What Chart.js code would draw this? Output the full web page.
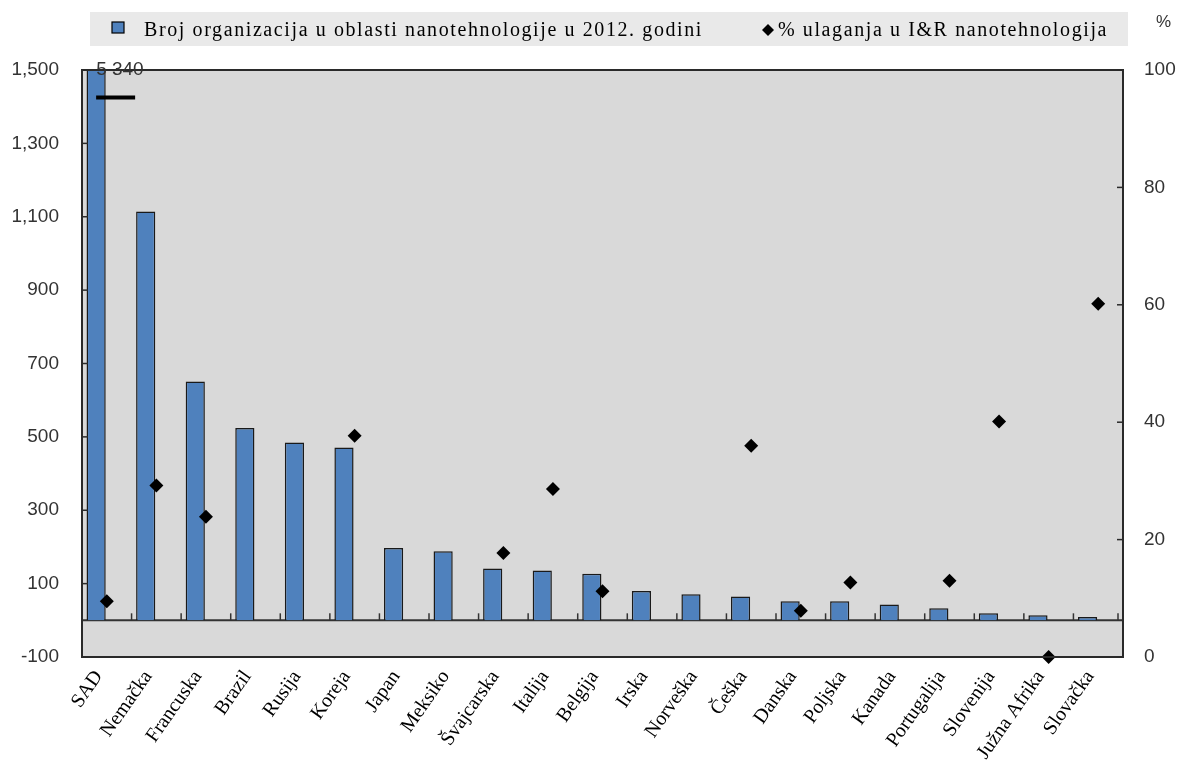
<!DOCTYPE html>
<html>
<head>
<meta charset="utf-8">
<script src="https://cdn.jsdelivr.net/npm/chart.js@4.4.1/dist/chart.umd.min.js"></script>
<style>
  html, body { margin: 0; padding: 0; background: #fff; }
  #wrap { width: 1178px; height: 765px; }
</style>
</head>
<body>
<div id="wrap"><canvas id="grafik" width="1178" height="765"></canvas></div>
<script>
// zemlje i vrednosti
const zemlje = ['SAD', 'Nemačka', 'Francuska', 'Brazil', 'Rusija', 'Koreja', 'Japan', 'Meksiko',
  'Švajcarska', 'Italija', 'Belgija', 'Irska', 'Norveška', 'Češka', 'Danska', 'Poljska',
  'Kanada', 'Portugalija', 'Slovenija', 'Južna Afrika', 'Slovačka'];
const brojOrganizacija = [5340, 1114, 651, 524, 485, 471, 197, 188, 141, 136, 127, 80, 71, 65, 52, 52, 43, 33, 19, 14, 9];
const procenatUlaganja = [9.5, 29.2, 23.9, null, null, 37.7, null, null, 17.7, 28.6, 11.2, null, null, 36.0, 7.9, 12.7, null, 13.0, 40.1, 0, 60.2];
const leviPodeoci = [-100, 100, 300, 500, 700, 900, 1100, 1300, 1500];
const desniPodeoci = [0, 20, 40, 60, 80, 100];
const prekid = 1425;   // gde se crta oznaka prekida za SAD

const natpisLevo = 'Broj organizacija u oblasti nanotehnologije u 2012. godini';
const natpisDesno = '% ulaganja u I&R nanotehnologija';

const plava = '#4F81BD';
const sivaPozadina = '#D9D9D9';
const sansFont = "'Liberation Sans', Arial, sans-serif";
const serifFont = "'Liberation Serif', 'Times New Roman', serif";

// pozadina, okvir, nulta linija, podeoci, legenda
const ukrasi = {
  id: 'ukrasi',
  beforeDraw(chart) {
    const { ctx, chartArea: a } = chart;
    ctx.save();
    ctx.fillStyle = sivaPozadina;
    ctx.fillRect(a.left, a.top, a.right - a.left, a.bottom - a.top);
    // legenda
    ctx.fillStyle = '#E9E9E9';
    ctx.fillRect(90, 12, 1038, 34);
    ctx.restore();
  },
  beforeDatasetsDraw(chart) {
    const { ctx, chartArea: a, scales } = chart;
    const y0 = scales.y.getPixelForValue(0);
    ctx.save();
    ctx.strokeStyle = '#333';
    ctx.lineWidth = 2;
    ctx.beginPath();
    ctx.moveTo(a.left, y0);
    ctx.lineTo(a.right, y0);
    ctx.stroke();
    // podeoci izmedju kategorija
    ctx.lineWidth = 1.5;
    const n = zemlje.length;
    for (let i = 1; i <= n; i++) {
      const x = i < n ? (scales.x.getPixelForTick(i - 1) + scales.x.getPixelForTick(i)) / 2 : a.right - 5;
      ctx.beginPath();
      ctx.moveTo(x, y0);
      ctx.lineTo(x, y0 - 7);
      ctx.stroke();
    }
    ctx.restore();
  },
  afterDraw(chart) {
    const { ctx, chartArea: a, scales } = chart;
    ctx.save();
    ctx.strokeStyle = '#2a2a2a';
    ctx.lineWidth = 2;
    ctx.strokeRect(a.left, a.top, a.right - a.left, a.bottom - a.top);
    // podeoci na osama
    ctx.lineWidth = 1.5;
    leviPodeoci.forEach(v => {
      const y = scales.y.getPixelForValue(v);
      ctx.beginPath(); ctx.moveTo(a.left, y); ctx.lineTo(a.left + 6, y); ctx.stroke();
    });
    desniPodeoci.forEach(v => {
      const y = scales.y2.getPixelForValue(v);
      ctx.beginPath(); ctx.moveTo(a.right, y); ctx.lineTo(a.right - 6, y); ctx.stroke();
    });

    // prekid stubca za SAD i vrednost
    const stub = chart.getDatasetMeta(0).data[0];
    const yp = scales.y.getPixelForValue(prekid);
    ctx.strokeStyle = '#000';
    ctx.lineWidth = 4;
    ctx.beginPath();
    ctx.moveTo(stub.x, yp);
    ctx.lineTo(stub.x + 39, yp);
    ctx.stroke();
    ctx.fillStyle = '#333';
    ctx.font = '19px ' + sansFont;
    ctx.textBaseline = 'middle';
    ctx.textAlign = 'left';
    ctx.fillText(brojOrganizacija[0].toLocaleString('fr-FR').replace(/\s/g, ' '), stub.x, a.top);

    // legenda
    ctx.fillStyle = plava;
    ctx.fillRect(112, 22, 12, 11);
    ctx.strokeStyle = '#000';
    ctx.lineWidth = 1.2;
    ctx.strokeRect(112, 22, 12, 11);
    ctx.fillStyle = '#000';
    ctx.beginPath();
    ctx.moveTo(768, 24); ctx.lineTo(774, 30); ctx.lineTo(768, 36); ctx.lineTo(762, 30);
    ctx.closePath(); ctx.fill();
    ctx.font = '20px ' + serifFont;
    ctx.letterSpacing = '1.6px';
    ctx.textBaseline = 'alphabetic';
    ctx.fillText(chart.data.datasets[0].label, 144, 36);
    ctx.fillText(chart.data.datasets[2].label, 778, 36);
    ctx.letterSpacing = '0px';
    ctx.font = '17px ' + sansFont;
    ctx.fillStyle = '#333';
    ctx.fillText('%', 1156, 27);
    ctx.restore();
  }
};

new Chart(document.getElementById('grafik'), {
  data: {
    labels: zemlje,
    datasets: [
      {
        type: 'bar',
        label: natpisLevo,
        data: brojOrganizacija,
        backgroundColor: plava,
        borderColor: '#1a1a1a',
        borderWidth: 1.5,
        categoryPercentage: 0.86,
        barPercentage: 0.9,
        yAxisID: 'y',
        clip: 0,
        order: 2
      },
      {
        // prazno mesto desno od stubca
        type: 'bar',
        label: '',
        data: zemlje.map(() => null),
        categoryPercentage: 0.86,
        barPercentage: 0.9,
        yAxisID: 'y',
        order: 3
      },
      {
        type: 'line',
        label: natpisDesno,
        data: procenatUlaganja,
        showLine: false,
        pointStyle: 'rectRot',
        pointRadius: 7,
        pointBackgroundColor: '#000',
        pointBorderColor: '#000',
        pointBorderWidth: 0,
        yAxisID: 'y2',
        clip: false,
        order: 1
      }
    ]
  },
  options: {
    responsive: false,
    animation: false,
    layout: { padding: { top: 70, left: 0, right: 0, bottom: 0 } },
    plugins: {
      legend: { display: false },
      tooltip: { enabled: false }
    },
    scales: {
      x: {
        type: 'category',
        offset: true,
        grid: { display: false, drawTicks: false },
        border: { display: false },
        ticks: {
          color: '#000',
          font: { family: serifFont, size: 20 },
          minRotation: 55,
          maxRotation: 55,
          padding: 9,
          labelOffset: -8,
          autoSkip: false
        },
        afterFit(s) { s.height = 108; s.paddingLeft = 0; s.paddingRight = 0; }
      },
      y: {
        position: 'left',
        min: -100,
        max: 1500,
        grid: { display: false, drawTicks: false },
        border: { display: false },
        afterBuildTicks(s) { s.ticks = leviPodeoci.map(v => ({ value: v })); },
        ticks: {
          color: '#333',
          font: { family: sansFont, size: 19 },
          padding: 23,
          callback: v => v.toLocaleString('en-US')
        },
        afterFit(s) { s.width = 82; s.paddingTop = 0; s.paddingBottom = 0; }
      },
      y2: {
        position: 'right',
        min: 0,
        max: 100,
        grid: { display: false, drawTicks: false },
        border: { display: false },
        afterBuildTicks(s) { s.ticks = desniPodeoci.map(v => ({ value: v })); },
        ticks: {
          color: '#333',
          font: { family: sansFont, size: 19 },
          padding: 21
        },
        afterFit(s) { s.width = 55; s.paddingTop = 0; s.paddingBottom = 0; }
      }
    }
  },
  plugins: [ukrasi]
});
</script>
</body>
</html>
